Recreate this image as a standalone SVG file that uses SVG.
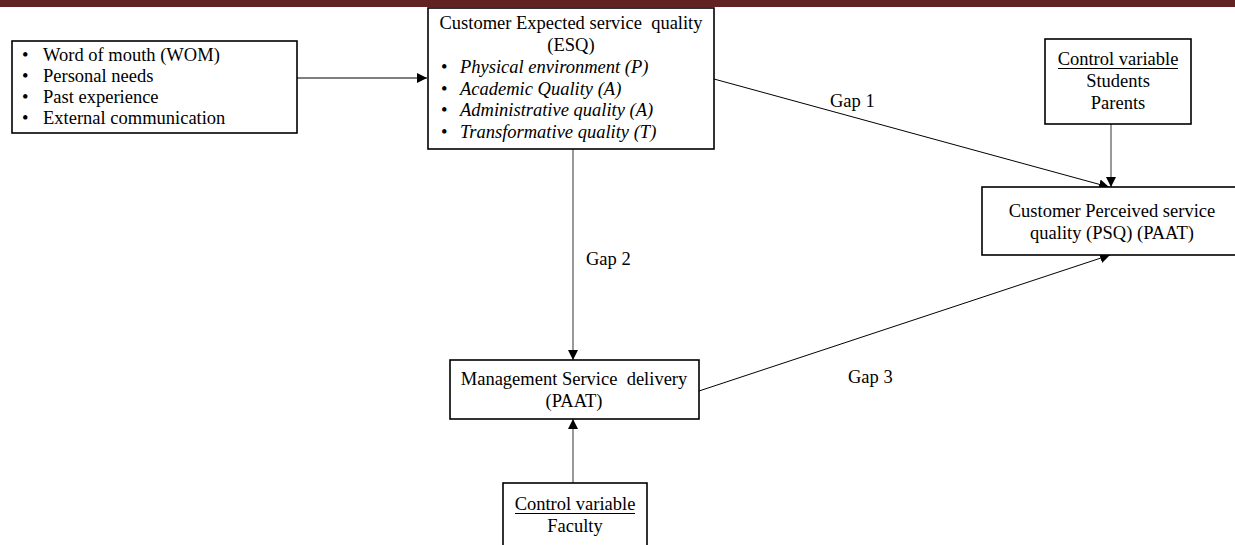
<svg xmlns="http://www.w3.org/2000/svg" width="1235" height="545" viewBox="0 0 1235 545">
  <defs>
    <style>
      .box { fill: #ffffff; stroke: #000000; stroke-width: 1.6; }
      .t { font-family: "Liberation Serif", "Times New Roman", serif; font-size: 18.5px; fill: #000000; }
      .it { font-style: italic; }
      .mid { text-anchor: middle; }
      .wire { stroke: #000000; stroke-width: 1; fill: none; }
      .wire-grey { stroke: #555555; stroke-width: 1.2; fill: none; }
      .ul { stroke: #000000; stroke-width: 1; }
    </style>
    <marker id="arrow" viewBox="0 0 10 10" refX="10" refY="5" markerWidth="10" markerHeight="10" markerUnits="userSpaceOnUse" orient="auto">
      <path d="M0,0 L10,5 L0,10 z" fill="#000000"/>
    </marker>
  </defs>

  <!-- header band -->
  <rect x="0" y="0" width="1235" height="7" fill="#632222"/>

  <!-- connectors -->
  <g id="connectors">
    <line class="wire" x1="297" y1="78" x2="427" y2="78" marker-end="url(#arrow)"/>
    <line class="wire" x1="714" y1="79" x2="1109" y2="187" marker-end="url(#arrow)"/>
    <line class="wire-grey" x1="1111" y1="124" x2="1111" y2="187" marker-end="url(#arrow)"/>
    <line class="wire-grey" x1="573" y1="149" x2="573" y2="360" marker-end="url(#arrow)"/>
    <line class="wire" x1="699" y1="391" x2="1110" y2="255" marker-end="url(#arrow)"/>
    <line class="wire-grey" x1="573" y1="483" x2="573" y2="419" marker-end="url(#arrow)"/>
    <text class="t" x="830" y="107">Gap 1</text>
    <text class="t" x="586" y="265">Gap 2</text>
    <text class="t" x="848" y="383">Gap 3</text>
  </g>

  <!-- antecedents -->
  <g id="antecedents">
    <rect class="box" x="12" y="41" width="285" height="92"/>
    <text class="t" x="22" y="61">•</text><text class="t" x="43" y="61">Word of mouth (WOM)</text>
    <text class="t" x="22" y="82">•</text><text class="t" x="43" y="82">Personal needs</text>
    <text class="t" x="22" y="103">•</text><text class="t" x="43" y="103">Past experience</text>
    <text class="t" x="22" y="124">•</text><text class="t" x="43" y="124">External communication</text>
  </g>

  <!-- expected service quality -->
  <g id="esq">
    <rect class="box" x="428" y="8" width="286" height="141"/>
    <text class="t mid" x="571" y="29" xml:space="preserve">Customer Expected service  quality</text>
    <text class="t mid" x="571" y="51">(ESQ)</text>
    <text class="t" x="441" y="73">•</text><text class="t it" x="460" y="73">Physical environment (P)</text>
    <text class="t" x="441" y="95">•</text><text class="t it" x="460" y="95">Academic Quality (A)</text>
    <text class="t" x="441" y="116">•</text><text class="t it" x="460" y="116">Administrative quality (A)</text>
    <text class="t" x="441" y="138">•</text><text class="t it" x="460" y="138">Transformative quality (T)</text>
  </g>

  <!-- control variable: students / parents -->
  <g id="control-students">
    <rect class="box" x="1045" y="39" width="146" height="85"/>
    <text class="t mid" x="1118" y="65">Control variable</text>
    <line class="ul" x1="1058" y1="68.5" x2="1178" y2="68.5"/>
    <text class="t mid" x="1118" y="87">Students</text>
    <text class="t mid" x="1118" y="109">Parents</text>
  </g>

  <!-- perceived service quality -->
  <g id="psq">
    <rect class="box" x="982" y="187" width="270" height="68"/>
    <text class="t mid" x="1112" y="217">Customer Perceived service</text>
    <text class="t mid" x="1112" y="239">quality (PSQ) (PAAT)</text>
  </g>

  <!-- management service delivery -->
  <g id="msd">
    <rect class="box" x="450" y="360" width="249" height="59"/>
    <text class="t mid" x="574" y="385" xml:space="preserve">Management Service  delivery</text>
    <text class="t mid" x="574" y="407">(PAAT)</text>
  </g>

  <!-- control variable: faculty -->
  <g id="control-faculty">
    <rect class="box" x="503" y="483" width="144" height="70"/>
    <text class="t mid" x="575" y="510">Control variable</text>
    <line class="ul" x1="515" y1="513.5" x2="635" y2="513.5"/>
    <text class="t mid" x="575" y="532">Faculty</text>
  </g>
</svg>
